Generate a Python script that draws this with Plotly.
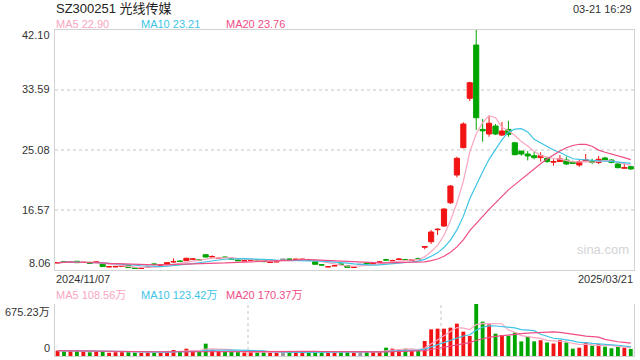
import numpy as np
import pandas as pd
import plotly.graph_objects as go

# ---------------- data ----------------
holidays = pd.to_datetime(["2025-01-01", "2025-01-28", "2025-01-29", "2025-01-30",
                           "2025-01-31", "2025-02-03", "2025-02-04"])
days = pd.bdate_range("2024-11-07", "2025-03-21")
dates = [d.strftime("%Y/%m/%d") for d in days if d not in holidays]

opens = [
    9.07, 9.25, 9.18, 9.30, 9.13, 9.15, 9.17, 8.90, 8.51, 8.52,
    8.60, 8.67, 8.33, 8.28, 8.42, 8.90, 8.74, 8.87, 9.22, 9.31,
    9.38, 9.60, 9.50, 10.23, 9.92, 9.70, 9.88, 9.64, 9.48, 9.36,
    9.46, 9.50, 9.48, 9.13, 9.22, 9.58, 9.60, 9.56, 9.56, 9.50,
    9.24, 8.79, 8.51, 8.65, 8.89, 8.67, 8.42, 8.85, 9.05, 9.00,
    9.17, 9.50, 9.36, 9.56, 9.55, 9.46, 9.64, 11.30, 12.07, 13.78,
    14.30, 17.60, 21.53, 25.41, 32.41, 39.97, 28.00, 27.35, 28.48, 27.20,
    28.00, 26.11, 24.93, 24.51, 24.27, 24.00, 23.90, 23.35, 23.44, 23.66,
    23.37, 22.95, 23.50, 23.51, 23.32, 23.95, 23.66, 23.10, 22.50, 22.71]
highs = [
    9.20, 9.35, 9.30, 9.33, 9.25, 9.20, 9.30, 8.92, 8.60, 8.60,
    8.70, 8.70, 8.38, 8.40, 8.55, 9.00, 8.85, 9.15, 9.70, 9.40,
    9.80, 9.75, 9.60, 10.30, 10.15, 9.85, 9.95, 9.72, 9.52, 9.45,
    9.55, 9.56, 9.52, 9.22, 9.30, 9.66, 9.66, 9.65, 9.66, 9.56,
    9.28, 8.90, 8.60, 8.75, 8.95, 8.70, 8.52, 8.95, 9.10, 9.10,
    9.28, 9.65, 9.50, 9.72, 9.65, 9.60, 9.80, 11.46, 13.73, 13.97,
    16.81, 20.11, 24.13, 29.01, 34.76, 42.10, 29.47, 29.90, 28.76, 29.05,
    29.23, 26.21, 24.93, 24.93, 24.84, 24.76, 24.13, 23.76, 24.37, 24.13,
    23.56, 23.66, 24.51, 23.85, 24.23, 24.13, 23.76, 23.20, 23.27, 22.85]
lows = [
    9.00, 9.15, 9.10, 9.05, 9.05, 8.98, 9.10, 8.50, 8.45, 8.46,
    8.55, 8.36, 8.24, 8.22, 8.38, 8.80, 8.70, 8.85, 9.05, 9.22,
    9.35, 9.55, 9.42, 9.85, 9.88, 9.65, 9.78, 9.55, 9.35, 9.30,
    9.40, 9.42, 9.20, 9.08, 9.16, 9.50, 9.52, 9.50, 9.52, 9.42,
    8.85, 8.70, 8.46, 8.60, 8.80, 8.40, 8.36, 8.78, 8.90, 8.95,
    9.12, 9.40, 9.30, 9.50, 9.45, 9.42, 9.55, 11.00, 11.75, 13.02,
    14.20, 17.42, 21.20, 25.32, 32.02, 27.91, 26.25, 26.96, 27.20, 27.06,
    26.96, 24.37, 24.27, 23.60, 23.76, 23.44, 23.27, 22.85, 23.44, 22.95,
    23.10, 22.71, 23.44, 23.10, 23.10, 23.56, 23.20, 22.50, 22.50, 22.24]
closes = [
    9.10, 9.23, 9.20, 9.10, 9.15, 9.01, 9.19, 8.56, 8.53, 8.54,
    8.63, 8.40, 8.30, 8.30, 8.45, 8.87, 8.78, 9.10, 9.24, 9.29,
    9.72, 9.62, 9.48, 9.90, 9.95, 9.72, 9.85, 9.62, 9.38, 9.38,
    9.48, 9.48, 9.24, 9.15, 9.24, 9.58, 9.58, 9.58, 9.58, 9.48,
    8.87, 8.77, 8.53, 8.67, 8.87, 8.44, 8.44, 8.85, 8.95, 9.03,
    9.19, 9.48, 9.38, 9.60, 9.52, 9.50, 9.62, 11.37, 13.45, 13.83,
    16.71, 19.97, 23.90, 28.77, 34.62, 29.66, 27.80, 28.87, 27.35, 27.77,
    27.30, 24.41, 24.51, 24.23, 24.00, 24.27, 23.44, 23.44, 23.82, 23.10,
    23.19, 23.44, 23.66, 23.32, 23.76, 23.66, 23.32, 22.57, 22.57, 22.40]
volumes = [  # 万
    70, 60, 68, 65, 58, 48, 60, 62, 42, 50,
    55, 60, 45, 40, 50, 55, 48, 60, 78, 55,
    95, 70, 60, 160, 80, 65, 60, 55, 50, 45,
    50, 48, 55, 45, 42, 48, 50, 45, 48, 45,
    65, 50, 45, 48, 50, 52, 45, 50, 55, 55,
    65, 108, 95, 85, 95, 75, 70, 195, 346, 355,
    355, 368, 420, 316, 260, 675.23, 446, 411, 290, 273,
    262, 305, 190, 250, 190, 205, 176, 162, 205, 176,
    95, 108, 182, 134, 152, 121, 100, 121, 108, 92]

price_ticks = [42.10, 33.59, 25.08, 16.57, 8.06]
price_tick_labels = ["42.10", "33.59", "25.08", "16.57", "8.06"]
vol_max = 675.23
vol_tick_labels = ["675.23万", "0"]
ma_labels = ["MA5 22.90", "MA10 23.21", "MA20 23.76"]
vol_ma_labels = ["MA5 108.56万", "MA10 123.42万", "MA20 170.37万"]
title = "SZ300251 光线传媒"
stamp = "03-21 16:29"

# ---------------- styling ----------------
RED = "#f21414"
GREEN = "#00a600"
GRAY = "#999999"
MA_COLORS = ["#f9a6c2", "#3ec4e6", "#ee4e86"]
FONT = "Liberation Sans, Arial, Noto Sans CJK SC, sans-serif"
TXT = "#333333"

o = np.array(opens); h = np.array(highs); l = np.array(lows); c = np.array(closes)
v = np.array(volumes)
x = np.array(dates)
cs = pd.Series(closes)
vs = pd.Series(volumes)

fig = go.Figure()

doji = o == c
nd = ~doji
fig.add_trace(go.Candlestick(
    x=x[nd], open=o[nd], high=h[nd], low=l[nd], close=c[nd],
    increasing=dict(line=dict(color=RED, width=1), fillcolor=RED),
    decreasing=dict(line=dict(color=GREEN, width=1), fillcolor=GREEN),
    whiskerwidth=0, xaxis="x", yaxis="y", hoverinfo="skip", showlegend=False))
fig.add_trace(go.Candlestick(
    x=x[doji], open=o[doji], high=h[doji], low=l[doji], close=c[doji],
    increasing=dict(line=dict(color=GRAY, width=1), fillcolor=GRAY),
    decreasing=dict(line=dict(color=GRAY, width=1), fillcolor=GRAY),
    whiskerwidth=0, xaxis="x", yaxis="y", hoverinfo="skip", showlegend=False))

for w, col in zip([5, 10, 20], MA_COLORS):
    fig.add_trace(go.Scatter(x=x, y=cs.rolling(w, min_periods=1).mean(), mode="lines",
                             line=dict(color=col, width=1.2), xaxis="x", yaxis="y",
                             hoverinfo="skip", showlegend=False))

vol_colors = [RED if cc > oo else (GREEN if cc < oo else GRAY) for oo, cc in zip(opens, closes)]
fig.add_trace(go.Bar(x=x, y=v, marker=dict(color=vol_colors, line=dict(width=0)), width=0.6,
                     xaxis="x2", yaxis="y2", hoverinfo="skip", showlegend=False))
for w, col in zip([5, 10, 20], MA_COLORS):
    fig.add_trace(go.Scatter(x=x, y=vs.rolling(w, min_periods=1).mean(), mode="lines",
                             line=dict(color=col, width=1.2), xaxis="x2", yaxis="y2",
                             hoverinfo="skip", showlegend=False))

W, H = 640, 360
L, R, T, B = 55, 6, 30, 4
PH = H - T - B
PW = W - L - R


def py(ypix):
    return (H - B - ypix) / PH


def px(xpix):
    return (xpix - L) / PW


xr = [-0.4, len(dates) - 0.5]
cat = dict(type="category", categoryorder="array", categoryarray=dates)
fig.update_layout(
    width=W, height=H, margin=dict(l=L, r=R, t=T, b=B),
    paper_bgcolor="white", plot_bgcolor="white",
    font=dict(family=FONT, size=11, color=TXT),
    boxgap=0.2, boxgroupgap=0, bargap=0.4,
    xaxis=dict(domain=[0, 1], anchor="y", range=xr, **cat,
               showticklabels=False, showgrid=False, zeroline=False,
               showline=True, mirror=True, linecolor="#d2d2d2", linewidth=1,
               rangeslider=dict(visible=False), fixedrange=True),
    yaxis=dict(domain=[py(270), 1], anchor="x", range=[price_ticks[-1], price_ticks[0]],
               tickvals=price_ticks[1:-1], showticklabels=False,
               showgrid=True, gridcolor="#e2e2e2", griddash="dot", gridwidth=1.5,
               zeroline=False, showline=True, mirror=True, linecolor="#d2d2d2", linewidth=1),
    xaxis2=dict(domain=[0, 1], anchor="y2", range=xr, **cat,
                showticklabels=False, showgrid=False, zeroline=False,
                showline=True, linecolor="#d2d2d2", linewidth=1),
    yaxis2=dict(domain=[0, py(304)], anchor="x2", range=[0, vol_max],
                tickvals=[vol_max], showticklabels=False,
                showgrid=True, gridcolor="#cfcfcf", griddash="dot", gridwidth=1.5,
                zeroline=False, showline=True, mirror=True, linecolor="#d2d2d2", linewidth=1),
)

for fx in (1 / 3, 2 / 3):
    fig.add_shape(type="line", xref="x2 domain", yref="y2 domain", x0=fx, x1=fx, y0=0, y1=1,
                  line=dict(color="#cfcfcf", width=1.2, dash="dot"), layer="below")

ann = []


def text(t, xpix, ypix, anchor="left", size=11, color=TXT):
    ann.append(dict(text=t, x=px(xpix), y=py(ypix), xref="paper", yref="paper",
                    xanchor=anchor, yanchor="middle", showarrow=False,
                    font=dict(size=size, color=color, family=FONT)))


text(title, 54, 9, size=13, color="#222222")
text(stamp, 634, 9, anchor="right", size=11)
for lab, xp, col in zip(ma_labels, [54, 139, 224], MA_COLORS):
    text(lab, xp, 24, color=col)
for lab, yp in zip(price_tick_labels, [35, 89, 149.5, 209.5, 263]):
    text(lab, 52, yp, anchor="right")
text(dates[0], 54, 279)
text(dates[-1], 635, 279, anchor="right")
for lab, xp, col in zip(vol_ma_labels, [54, 139, 224], MA_COLORS):
    text(lab, xp, 295, color=col)
text(vol_tick_labels[0], 52, 312, anchor="right")
text(vol_tick_labels[1], 52, 348, anchor="right")
text("sina.com", 603, 249, anchor="center", size=13, color="#d4d4d4")
fig.update_layout(annotations=ann)

fig.write_html("out.html", config=dict(displayModeBar=False))
